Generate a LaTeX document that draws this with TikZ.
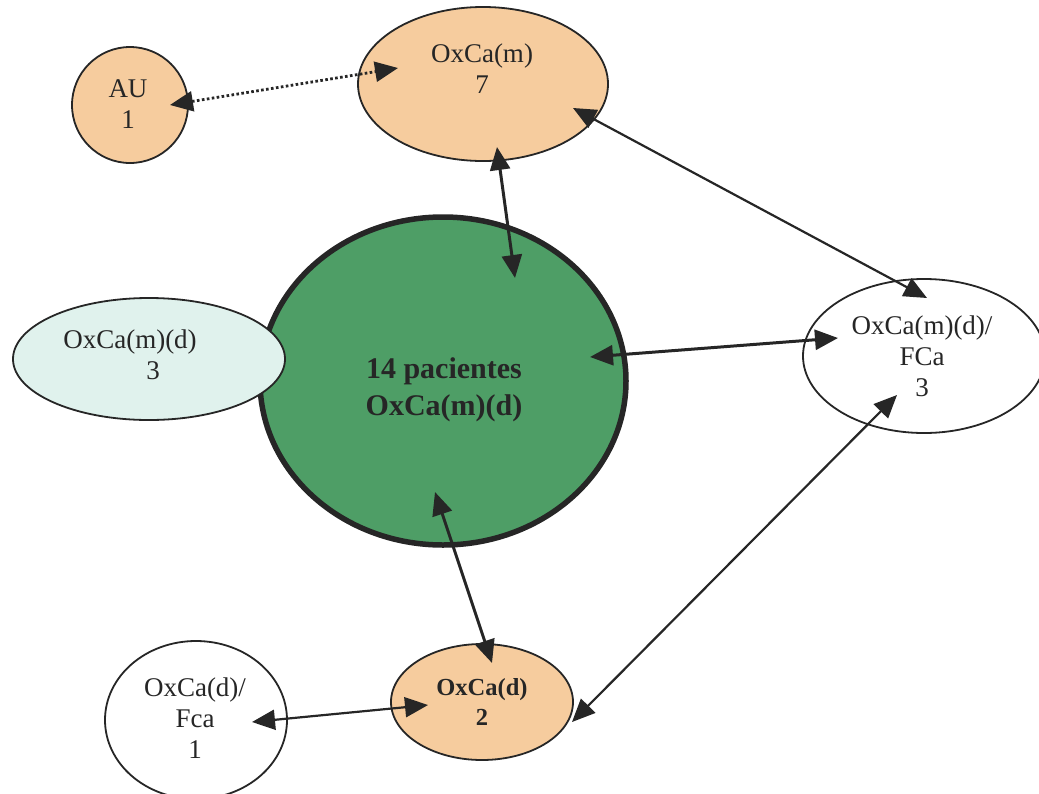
\documentclass[tikz,border=0pt]{standalone}
\usepackage{fontspec}
\setmainfont{Liberation Serif}
\usetikzlibrary{arrows.meta,calc,shapes.geometric}
\definecolor{peach}{RGB}{246,204,158}
\definecolor{pgreen}{RGB}{78,158,102}
\definecolor{paleaqua}{RGB}{224,242,237}
\definecolor{ink}{RGB}{38,38,38}

\begin{document}
\begin{tikzpicture}[x=1pt,y=-1pt,
  group/.style={shape=ellipse, draw=ink, line width=1.8pt, inner sep=0pt, outer sep=0pt},
  label/.style={text=ink, inner sep=0pt, align=center, font=\fontsize{27}{31}\selectfont},
  boldlabel/.style={label, font=\fontsize{24.5}{30}\selectfont\bfseries},
  biglabel/.style={label, font=\fontsize{30}{37}\selectfont\bfseries},
  tip/.tip={Triangle[length=23pt,width=20pt]},
  link/.style={draw=ink, line width=2.2pt, tip-tip},
  strong/.style={link, line width=3pt},
  dots/.style={link, line width=2.8pt, dash pattern=on 2.6pt off 2.4pt}]

\useasboundingbox (0,0) rectangle (1039,793);
\clip (0,0) rectangle (1039,793);

% groups of patients
\node[group, fill=peach, minimum width=116, minimum height=116] (au) at (130,105) {};
\node[group, fill=peach, minimum width=250, minimum height=154] (m) at (483,84) {};
\node[group, fill=pgreen, line width=5.5pt, minimum width=366, minimum height=328] (all) at (443,381) {};
\node[group, fill=paleaqua, minimum width=272, minimum height=122] (md) at (149,359) {};
\node[group, fill=white, minimum width=242, minimum height=154] (mdf) at (924,356) {};
\node[group, fill=peach, minimum width=182, minimum height=116] (d) at (482,702) {};
\node[group, fill=white, minimum width=182, minimum height=158] (df) at (196,720) {};

% labels
\node[label] (au-t) at (128,104) {AU\\1};
\node[label] (m-t) at (482,69) {OxCa(m)\\7};
\node[biglabel] (all-t) at (444,390) {14 pacientes\\OxCa(m)(d)};
\node[label] (md-t) at (130,355) {OxCa(m)(d)\\\hspace*{46pt}3};
\node[label] (mdf-t) at (922,356) {OxCa(m)(d)/\\FCa\\3};
\node[boldlabel] (d-t) at (482,702) {OxCa(d)\\2};
\node[label] (df-t) at (195,718) {OxCa(d)/\\Fca\\1};

% relations
\draw[dots] ($(au.center)+(40,0)$) -- ($(m.center)+(-85,-16)$);
\draw[strong] ($(m.center)+(14,63)$) -- ($(all.center)+(72,-103)$);
\draw[link] ($(m.center)+(90,24)$) -- ($(mdf.center)+(3,-58)$);
\draw[strong] ($(all.center)+(147,-24)$) -- ($(mdf.center)+(-86,-18)$);
\draw[strong] ($(all.center)+(-8,111)$) -- ($(d.center)+(10,-39)$);
\draw[link] ($(d.center)+(90,20)$) -- ($(mdf.center)+(-27,39)$);
\draw[link] ($(df.center)+(56,2)$) -- ($(d.center)+(-54,3)$);

\end{tikzpicture}
\end{document}
